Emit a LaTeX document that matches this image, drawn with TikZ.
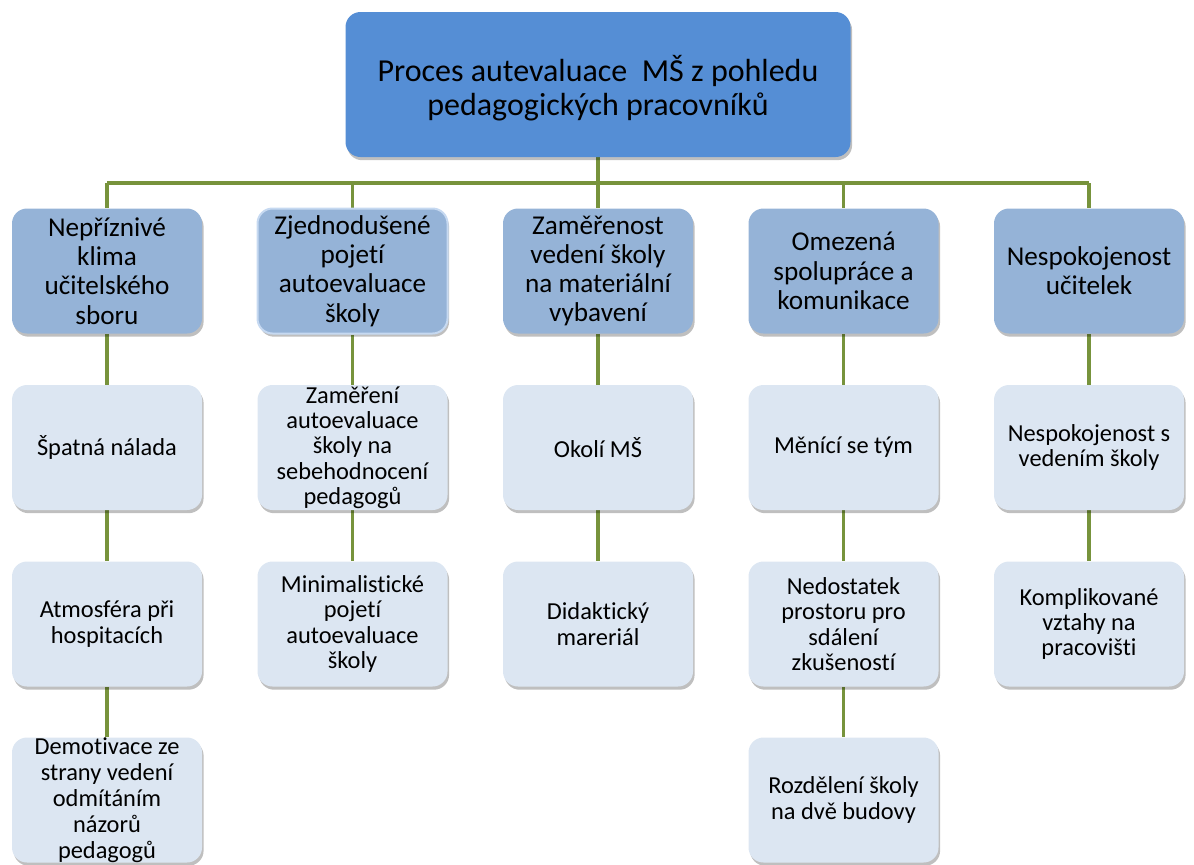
\documentclass[tikz,border=0pt]{standalone}
\usepackage{fontspec}
\setmainfont{Carlito}[Ligatures={NoCommon}]
\usetikzlibrary{shadows,backgrounds}
\definecolor{topblue}{HTML}{558ED5}
\definecolor{lvlone}{HTML}{95B3D7}
\definecolor{lvltwo}{HTML}{DCE6F2}
\definecolor{glowline}{HTML}{C6D9F1}
\definecolor{olive}{HTML}{77933C}
\tikzset{
  boxbase/.style={rectangle, rounded corners=11.25pt, inner sep=0pt,
    minimum width=142.5pt, minimum height=93.75pt, draw=none,
    drop shadow={shadow xshift=1.2pt, shadow yshift=-2.4pt, opacity=0.25, fill=black}},
  topbox/.style={boxbase, fill=topblue, minimum width=378.75pt, minimum height=108.75pt},
  onebox/.style={boxbase, fill=lvlone},
  twobox/.style={boxbase, fill=lvltwo},
  ttop/.style={align=center, inner sep=0pt, font=\fontsize{24pt}{25pt}\selectfont},
  tone/.style={align=center, inner sep=0pt, font=\fontsize{20.4pt}{21.9pt}\selectfont},
  ttwo/.style={align=center, inner sep=0pt, font=\fontsize{18.3pt}{19pt}\selectfont},
  conn/.style={draw=olive, line width=2.4pt}
}
\begin{document}
\begin{tikzpicture}[x=0.75pt,y=-0.75pt]
\path[use as bounding box] (0,0) rectangle (1194,864);
% top
\node[topbox] (top) at (598,84.5) {};
\node[ttop] at (598,88) {Proces autevaluace~ MŠ z pohledu\\pedagogických pracovníků};
% level 1
\node[onebox] (a1) at (107,271) {};
\node[onebox, draw=glowline, line width=1.5pt] (b1) at (352.5,271) {};
\node[onebox] (c1) at (598,271) {};
\node[onebox] (d1) at (843.5,271) {};
\node[onebox] (e1) at (1089,271) {};
\node[tone] at (a1) {Nepříznivé\\klima\\učitelského\\sboru};
\node[tone] at (b1) {Zjednodušené\\pojetí\\autoevaluace\\školy};
\node[tone] at (c1) {Zaměřenost\\vedení školy\\na materiální\\vybavení};
\node[tone] at (d1) {Omezená\\spolupráce a\\komunikace};
\node[tone] at (e1) {Nespokojenost\\učitelek};
% level 2
\node[twobox] (a2) at (107,447.5) {};
\node[twobox] (b2) at (352.5,447.5) {};
\node[twobox] (c2) at (598,447.5) {};
\node[twobox] (d2) at (843.5,447.5) {};
\node[twobox] (e2) at (1089,447.5) {};
\node[ttwo] at (a2) {Špatná nálada};
\node[ttwo] at (b2) {Zaměření\\autoevaluace\\školy na\\sebehodnocení\\pedagogů};
\node[ttwo] at (c2) {Okolí MŠ};
\node[ttwo] at (d2) {Měnící se tým};
\node[ttwo] at (e2) {Nespokojenost s\\vedením školy};
% level 3
\node[twobox] (a3) at (107,624) {};
\node[twobox] (b3) at (352.5,624) {};
\node[twobox] (c3) at (598,624) {};
\node[twobox] (d3) at (843.5,624) {};
\node[twobox] (e3) at (1089,624) {};
\node[ttwo] at (a3) {Atmosféra při\\hospitacích};
\node[ttwo] at (b3) {Minimalistické\\pojetí\\autoevaluace\\školy};
\node[ttwo] at (c3) {Didaktický\\mareriál};
\node[ttwo] at (d3) {Nedostatek\\prostoru pro\\sdálení\\zkušeností};
\node[ttwo] at (e3) {Komplikované\\vztahy na\\pracovišti};
% level 4
\node[twobox] (a4) at (107,800) {};
\node[twobox] (d4) at (843.5,800) {};
\node[ttwo, font=\fontsize{18.3pt}{19.4pt}\selectfont] at (a4) {Demotivace ze\\strany vedení\\odmítáním\\názorů\\pedagogů};
\node[ttwo] at (d4) {Rozdělení školy\\na dvě budovy};
% connectors
\coordinate (bar) at (598,183);
\begin{scope}[on background layer]
\draw[conn] (top.south) -- (top.south |- bar);
\draw[conn] (a1.north |- bar) -- (e1.north |- bar);
\foreach \n in {a1,b1,c1,d1,e1} {\draw[conn] (\n.north |- bar) -- (\n.north);}
\draw[conn] (a1.south) -- (a2.north) (a2.south) -- (a3.north) (a3.south) -- (a4.north);
\draw[conn] (b1.south) -- (b2.north) (b2.south) -- (b3.north);
\draw[conn] (c1.south) -- (c2.north) (c2.south) -- (c3.north);
\draw[conn] (d1.south) -- (d2.north) (d2.south) -- (d3.north) (d3.south) -- (d4.north);
\draw[conn] (e1.south) -- (e2.north) (e2.south) -- (e3.north);
\end{scope}
\end{tikzpicture}
\end{document}
